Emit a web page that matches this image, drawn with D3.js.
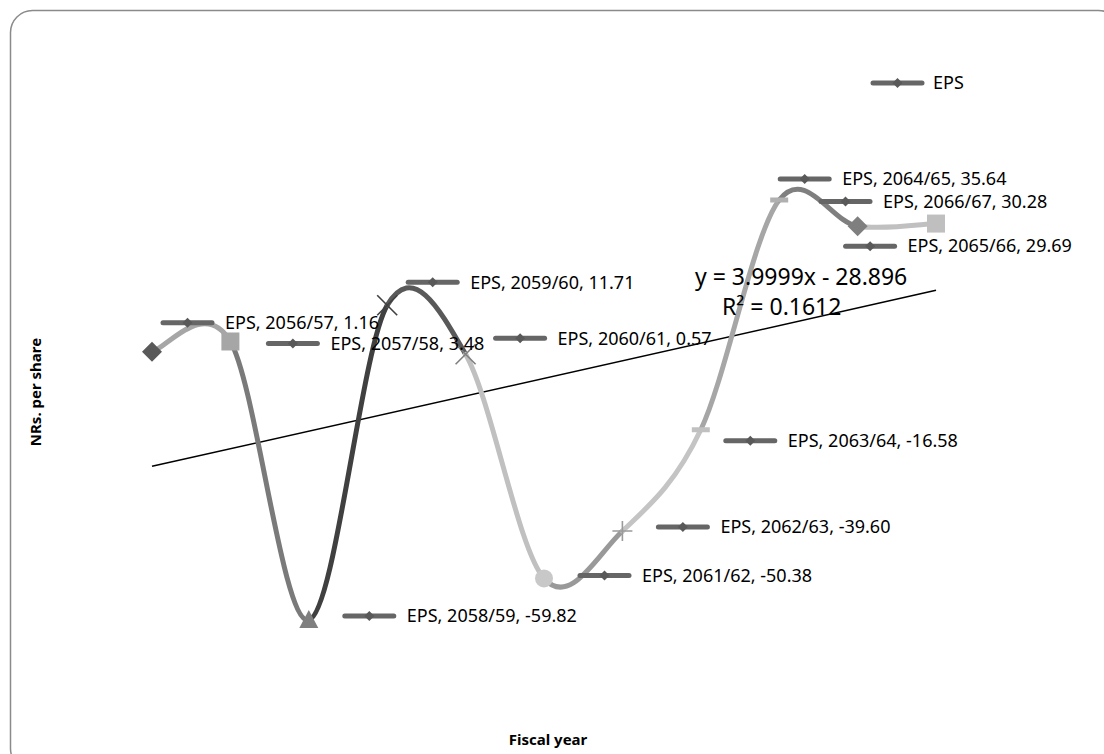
<!DOCTYPE html>
<html>
<head>
<meta charset="utf-8">
<script src="https://cdn.jsdelivr.net/npm/d3@7"></script>
<style>
  html, body { margin: 0; padding: 0; background: #fff; }
  svg { display: block; }
  text { font-family: "Noto Sans", "Open Sans", sans-serif; fill: #000; }
</style>
</head>
<body>
<svg id="chart" width="1104" height="754"></svg>
<script>
// Earnings per share by fiscal year
const years = ["2056/57", "2057/58", "2058/59", "2059/60", "2060/61", "2061/62",
               "2062/63", "2063/64", "2064/65", "2065/66", "2066/67"];
const eps = [1.16, 3.48, -59.82, 11.71, 0.57, -50.38, -39.60, -16.58, 35.64, 29.69, 30.28];
const seriesName = "EPS";

// Linear trend fitted over the point index 1..n
const trendSlope = 3.9999;
const trendIntercept = -28.896;
const trendR2 = 0.1612;

// Per-point styling: marker shape and fills, segment colours
const markerShapes = ["diamond", "square", "triangle", "x", "star", "circle", "plus", "dash", "dash", "diamond", "square"];
const markerColors = ["#595959", "#a6a6a6", "#7f7f7f", "#404040", "#7f7f7f", "#c8c8c8", "#9a9a9a", "#c0c0c0", "#b0b0b0", "#7f7f7f", "#bfbfbf"];
const segmentColors = ["#a6a6a6", "#7a7a7a", "#404040", "#595959", "#c0c0c0", "#999999", "#c4c4c4", "#a6a6a6", "#7f7f7f", "#c0c0c0"];
// Data label placement relative to each point (key start, vertical shift)
const labelOffsets = [[8, -29], [35, 2], [33, -4], [18, -23], [27, -16], [33, -3],
                      [33, -4], [22, 11], [-2, -21], [-15, 20], [-118, -22]];

const svg = d3.select("#chart");

// Outer rounded frame
svg.append("rect")
  .attr("x", 10.5).attr("y", 10.5)
  .attr("width", 1110).attr("height", 760)
  .attr("rx", 22).attr("ry", 22)
  .attr("fill", "#fff")
  .attr("stroke", "#8a8a8a").attr("stroke-width", 1.5);

const x = d3.scalePoint().domain(years).range([152, 936]);
const y = d3.scaleLinear().domain([-80, 60]).range([708.8, 92.8]);
const xi = d3.scaleLinear().domain([1, years.length]).range([152, 936]);

const pts = years.map((yr, i) => ({ yr, v: eps[i], px: x(yr), py: y(eps[i]), i }));

// Trend line
const trendData = [1, years.length].map(k => ({ k, v: trendSlope * k + trendIntercept }));
svg.append("path")
  .datum(trendData)
  .attr("d", d3.line().x(d => xi(d.k)).y(d => y(d.v)))
  .attr("fill", "none").attr("stroke", "#000").attr("stroke-width", 1.5);

// Smoothed line, one Catmull-Rom segment per pair of points
const segG = svg.append("g");
for (let i = 0; i < pts.length - 1; i++) {
  const p0 = pts[Math.max(i - 1, 0)], p1 = pts[i], p2 = pts[i + 1], p3 = pts[Math.min(i + 2, pts.length - 1)];
  const c1 = [p1.px + (p2.px - p0.px) / 6, p1.py + (p2.py - p0.py) / 6];
  const c2 = [p2.px - (p3.px - p1.px) / 6, p2.py - (p3.py - p1.py) / 6];
  const path = d3.path();
  path.moveTo(p1.px, p1.py);
  path.bezierCurveTo(c1[0], c1[1], c2[0], c2[1], p2.px, p2.py);
  segG.append("path")
    .attr("d", path.toString())
    .attr("fill", "none")
    .attr("stroke", segmentColors[i])
    .attr("stroke-width", 5)
    .attr("stroke-linecap", "round");
}

// Markers
const mG = svg.append("g");
pts.forEach((p, i) => {
  const shape = markerShapes[i], col = markerColors[i];
  const g = mG.append("g").attr("transform", `translate(${p.px},${p.py})`);
  if (shape === "diamond") {
    g.append("path").attr("d", "M0,-10L10,0L0,10L-10,0Z").attr("fill", col);
  } else if (shape === "square") {
    g.append("rect").attr("x", -9).attr("y", -9).attr("width", 18).attr("height", 18).attr("fill", col);
  } else if (shape === "triangle") {
    g.append("path").attr("d", "M0,-10L9.5,8L-9.5,8Z").attr("fill", col);
  } else if (shape === "circle") {
    g.append("circle").attr("r", 9).attr("fill", col);
  } else if (shape === "x" || shape === "star") {
    g.append("path").attr("d", "M-10,-10L10,10M10,-10L-10,10")
      .attr("stroke", col).attr("stroke-width", 1.6).attr("fill", "none");
  } else if (shape === "plus") {
    g.append("path").attr("d", "M-10,0L10,0M0,-10L0,10")
      .attr("stroke", col).attr("stroke-width", 1.6).attr("fill", "none");
  } else if (shape === "dash") {
    g.append("rect").attr("x", -9).attr("y", -2.5).attr("width", 18).attr("height", 5).attr("fill", col);
  }
});

// Legend key used by data labels and legend
function legendKey(g, x0, yc) {
  g.append("line")
    .attr("x1", x0 + 3).attr("x2", x0 + 52).attr("y1", yc).attr("y2", yc)
    .attr("stroke", "#666").attr("stroke-width", 5).attr("stroke-linecap", "round");
  g.append("path")
    .attr("transform", `translate(${x0 + 27.5},${yc})`)
    .attr("d", "M0,-5L5,0L0,5L-5,0Z").attr("fill", "#595959");
}

// Data labels
const lG = svg.append("g");
pts.forEach((p, i) => {
  const [dx, dy] = labelOffsets[i];
  const kx = p.px + dx, ky = p.py + dy;
  legendKey(lG, kx, ky);
  lG.append("text")
    .attr("x", kx + 65).attr("y", ky)
    .attr("dy", "0.35em")
    .attr("font-size", 18)
    .text(`${seriesName}, ${p.yr}, ${p.v.toFixed(2)}`);
});

// Trend equation
svg.append("text").attr("x", 695).attr("y", 277).attr("dy", "0.35em")
  .attr("font-size", 23).text(`y = ${trendSlope}x - ${Math.abs(trendIntercept)}`);
svg.append("text").attr("x", 722).attr("y", 307).attr("dy", "0.35em")
  .attr("font-size", 23).text(`R² = ${trendR2}`);

// Legend
legendKey(svg, 870, 83);
svg.append("text").attr("x", 933).attr("y", 83).attr("dy", "0.35em")
  .attr("font-size", 18).text(seriesName);

// Axis titles
svg.append("text")
  .attr("transform", "translate(36,392) rotate(-90)")
  .attr("text-anchor", "middle").attr("dy", "0.35em")
  .attr("font-size", 15).attr("font-weight", "bold")
  .text("NRs. per share");
svg.append("text")
  .attr("x", 548).attr("y", 740)
  .attr("text-anchor", "middle").attr("dy", "0.35em")
  .attr("font-size", 15).attr("font-weight", "bold")
  .text("Fiscal year");
</script>
</body>
</html>
